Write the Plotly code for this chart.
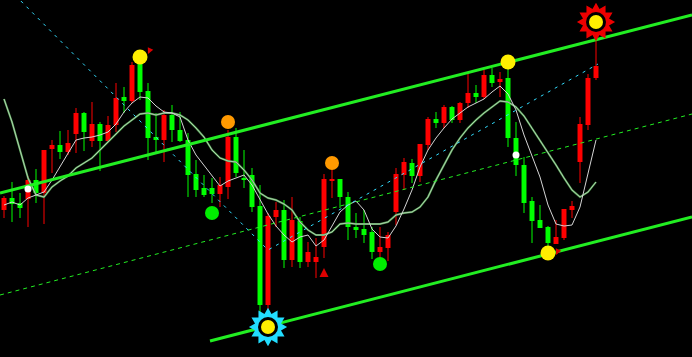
import plotly.graph_objects as go

open_lv = [210,198,203,199,180,193,149,145,152,134,113,141,124,141,125,97,101,63,91,137,
           140,115,130,140,174,188,188,194,187,137,178,175,206,305,217,210,260,221,262,262,
           247,181,179,197,227,229,232,252,248,212,175,163,176,145,119,123,107,120,103,93,
           97,75,82,78,138,165,201,220,227,244,238,210,162,125,78]
high_lv = [196,182,193,176,169,150,140,131,130,108,112,102,122,116,83,87,62,62,83,113,
           110,105,112,133,160,175,178,177,130,128,150,168,185,213,202,200,197,217,242,238,
           174,170,179,192,213,210,227,227,232,168,158,159,144,117,112,105,106,102,73,85,
           70,68,72,68,122,157,197,205,226,220,209,201,117,74,30]
low_lv = [218,222,218,227,203,224,173,159,155,153,151,147,171,142,132,113,103,100,160,152,
          162,142,142,197,197,197,203,207,199,177,188,212,313,310,227,268,267,268,267,278,
          258,198,208,240,238,243,259,258,261,225,190,183,182,150,128,128,123,123,108,103,
          99,87,97,147,176,213,243,228,248,244,240,218,183,130,80]
close_lv = [198,204,208,180,193,150,145,152,143,113,132,124,141,125,98,101,65,92,138,140,
            115,130,141,175,190,195,194,185,137,173,180,207,305,216,210,260,220,262,252,257,
            179,179,197,227,230,235,252,247,235,174,162,176,144,119,123,107,120,103,93,97,
            75,83,79,138,165,203,221,228,243,237,209,206,124,78,66]

fast_ma = [205,202,205,198,195,192,180,167,153,140,138,137,135,132,124,112,103,97,98,106,
           112,113,117,140,155,165,176,186,181,178,175,185,200,214,226,235,242,237,235,246,
           240,226,212,205,201,210,229,237,238,226,209,190,167,150,138,128,119,113,107,103,
           99,92,86,94,110,135,157,177,205,224,226,225,207,172,140]
slow_ma = [99,122,150,178,195,197,187,181,176,168,163,158,150,142,133,126,120,114,113,115,
           113,113,115,120,128,137,150,158,161,162,170,180,193,198,200,204,210,222,230,235,
           235,232,224,223,224,224,224,224,222,215,213,212,207,197,180,165,150,138,128,120,
           113,107,101,102,107,116,128,140,152,165,178,190,197,192,182]

# Channel / zigzag anchor points (bar index, level)
upper_x, upper_y = [-0.5, 86], [193, 15]
lower_x, lower_y = [25.75, 86], [341, 217]
mid_x, mid_y = [-0.5, 86], [295, 114]
zig_x, zig_y = [0, 33, 74.25], [-16, 250, 64]

# Signal markers (bar index, level)
yellow_x, yellow_y = [17, 63, 68], [57, 62, 253]
orange_x, orange_y = [28, 41], [122, 163]
green_x, green_y = [26, 47], [213, 264]
white_x, white_y = [3, 64], [189, 155]
arrow_x, arrow_y = [40], [268]
hook_x, hook_y = [18, 69], [54, 255]
sun_cyan_x, sun_cyan_y = [33], [327]
sun_red_x, sun_red_y = [74], [22]

n = len(open_lv)
idx = list(range(n))
UP, DN = "#ff0000", "#00ff00"

fig = go.Figure()

# wicks and bodies
for col, test in ((UP, lambda i: close_lv[i] < open_lv[i]), (DN, lambda i: close_lv[i] >= open_lv[i])):
    wx, wy = [], []
    for i in idx:
        if test(i):
            wx += [i, i, None]
            wy += [high_lv[i], low_lv[i], None]
    fig.add_trace(go.Scatter(x=wx, y=wy, mode="lines", line=dict(color=col, width=1),
                             hoverinfo="skip"))
    bx, bb, bh = [], [], []
    for i in idx:
        if test(i):
            top = min(open_lv[i], close_lv[i])
            h = max(abs(open_lv[i] - close_lv[i]), 1.2)
            bx.append(i); bb.append(top); bh.append(h)
    fig.add_trace(go.Bar(x=bx, y=bh, base=bb, width=0.62, marker=dict(color=col, line=dict(width=0))))

# moving averages
fig.add_trace(go.Scatter(x=idx, y=slow_ma, mode="lines", line=dict(color="#4f9a4f", width=2)))
fig.add_trace(go.Scatter(x=idx, y=slow_ma, mode="lines", line=dict(color="#c4dcc4", width=0.8)))
fig.add_trace(go.Scatter(x=idx, y=fast_ma, mode="lines", line=dict(color="#d4d4d4", width=1)))

# channel
fig.add_trace(go.Scatter(x=mid_x, y=mid_y, mode="lines", line=dict(color="#22ee22", width=1, dash="4px,4px")))
fig.add_trace(go.Scatter(x=zig_x, y=zig_y, mode="lines", line=dict(color="#33ddff", width=1, dash="3px,5px")))
fig.add_trace(go.Scatter(x=upper_x, y=upper_y, mode="lines", line=dict(color="#22ee22", width=3)))
fig.add_trace(go.Scatter(x=lower_x, y=lower_y, mode="lines", line=dict(color="#22ee22", width=3)))

# markers
def dots(x, y, color, size, symbol="circle", angle=0):
    fig.add_trace(go.Scatter(x=x, y=y, mode="markers",
                             marker=dict(color=color, size=size, symbol=symbol, angle=angle,
                                         line=dict(width=0))))

dots(green_x, green_y, "#00ee00", 14)
dots(orange_x, orange_y, "#ff9900", 14)
dots(yellow_x, yellow_y, "#ffee00", 15)
dots(white_x, white_y, "#ffffff", 7)
dots(arrow_x, arrow_y, "#dd0000", 9, "arrow-up")
dots(hook_x, hook_y, "#dd0000", 6, "arrow-down", 25)

for sx, sy, sc in ((sun_cyan_x, sun_cyan_y, "#22ddff"), (sun_red_x, sun_red_y, "#ee0000")):
    dots(sx, sy, sc, 29, "hexagram", 0)
    dots(sx, sy, sc, 29, "hexagram", 30)
    dots(sx, sy, "#000000", 20)
    dots(sx, sy, "#ffee00", 14)

fig.update_layout(
    width=692, height=357, margin=dict(l=0, r=0, t=0, b=0),
    paper_bgcolor="#000000", plot_bgcolor="#000000",
    showlegend=False, barmode="overlay",
    xaxis=dict(range=[-0.5, 86], visible=False, fixedrange=True),
    yaxis=dict(range=[357, 0], visible=False, fixedrange=True),
)
fig.write_html("out.html")
